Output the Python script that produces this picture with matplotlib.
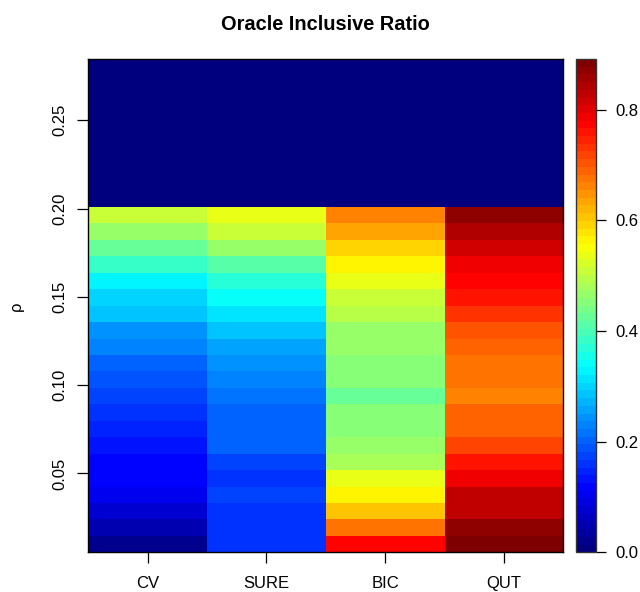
import matplotlib
matplotlib.use('Agg')
import matplotlib.pyplot as plt
from matplotlib.colors import LinearSegmentedColormap
import numpy as np

plt.rcParams['font.family'] = ['Liberation Sans', 'DejaVu Sans']

# 方法与 rho 网格
methods = ['CV', 'SURE', 'BIC', 'QUT']
rho = [0.0100, 0.0193, 0.0286, 0.0379, 0.0472, 0.0566, 0.0659, 0.0752, 0.0845, 0.0938,
       0.1031, 0.1124, 0.1217, 0.1310, 0.1403, 0.1497, 0.1590, 0.1683, 0.1776, 0.1869,
       0.1962, 0.2055, 0.2148, 0.2241, 0.2334, 0.2428, 0.2521, 0.2614, 0.2707, 0.2800]

# 每列从下到上 (rho 递增)
cv = [0.022, 0.049, 0.082, 0.098, 0.118, 0.120, 0.134, 0.152, 0.158, 0.181,
      0.195, 0.200, 0.230, 0.245, 0.279, 0.305, 0.334, 0.379, 0.419, 0.468,
      0.513, 0, 0, 0, 0, 0, 0, 0, 0, 0]
sure = [0.167, 0.167, 0.167, 0.174, 0.160, 0.181, 0.200, 0.200, 0.204, 0.216,
        0.223, 0.237, 0.260, 0.290, 0.317, 0.343, 0.371, 0.409, 0.460, 0.513,
        0.535, 0, 0, 0, 0, 0, 0, 0, 0, 0]
bic = [0.772, 0.676, 0.602, 0.566, 0.531, 0.483, 0.468, 0.446, 0.446, 0.424,
       0.446, 0.446, 0.460, 0.460, 0.493, 0.513, 0.535, 0.566, 0.594, 0.632,
       0.662, 0, 0, 0, 0, 0, 0, 0, 0, 0]
qut = [0.892, 0.878, 0.829, 0.829, 0.781, 0.753, 0.714, 0.691, 0.683, 0.662,
       0.669, 0.669, 0.691, 0.706, 0.738, 0.753, 0.772, 0.794, 0.817, 0.845,
       0.870, 0, 0, 0, 0, 0, 0, 0, 0, 0]

Z = np.column_stack([cv, sure, bic, qut])

# R image() 风格的格子边界：取中点
y = np.asarray(rho)
mid = (y[:-1] + y[1:]) / 2
y_edges = np.concatenate([[y[0] - (y[1] - y[0]) / 2], mid, [y[-1] + (y[-1] - y[-2]) / 2]])
x = np.arange(1, len(methods) + 1)
x_edges = np.arange(0.5, len(methods) + 1, 1.0)

jet = LinearSegmentedColormap.from_list(
    'jet_r', ['#00007F', '#0000FF', '#007FFF', '#00FFFF', '#7FFF7F',
              '#FFFF00', '#FF7F00', '#FF0000', '#7F0000'], N=64)

fig = plt.figure(figsize=(6.4, 5.92), dpi=100)
ax = fig.add_axes([88.3 / 640, 1 - 552.3 / 592, 475 / 640, 493.3 / 592])
cax = fig.add_axes([575.7 / 640, 1 - 552.3 / 592, 20 / 640, 493.3 / 592])

mesh = ax.pcolormesh(x_edges, y_edges, Z, cmap=jet, vmin=0, vmax=Z.max())
ax.set_xlim(x_edges[0], x_edges[-1])
ax.set_ylim(y_edges[0], y_edges[-1])
ax.set_xticks(x)
ax.set_xticklabels(methods)
ax.set_yticks([0.05, 0.10, 0.15, 0.20, 0.25])
ax.set_yticklabels(['0.05', '0.10', '0.15', '0.20', '0.25'], rotation=90, va='center')
ax.tick_params(direction='out', length=7.8, width=0.9, labelsize=12)
ax.tick_params(axis='x', pad=9.6)
ax.tick_params(axis='y', pad=7.4)
for s in ax.spines.values():
    s.set_linewidth(1.0)

ax.set_title('Oracle Inclusive Ratio', fontsize=14.4, fontweight='bold', pad=21)
fig.text(16 / 640, 1 - 306 / 592, 'ρ', rotation=90, ha='center', va='center', fontsize=12)

cb = fig.colorbar(mesh, cax=cax)
cb.set_ticks([0.0, 0.2, 0.4, 0.6, 0.8])
cb.set_ticklabels(['0.0', '0.2', '0.4', '0.6', '0.8'])
cax.tick_params(direction='out', length=7.2, width=0.9, pad=6.7, labelsize=12)
cb.outline.set_linewidth(1.0)
cb.outline.set_edgecolor('#333333')

fig.savefig('out.png', dpi=100)
